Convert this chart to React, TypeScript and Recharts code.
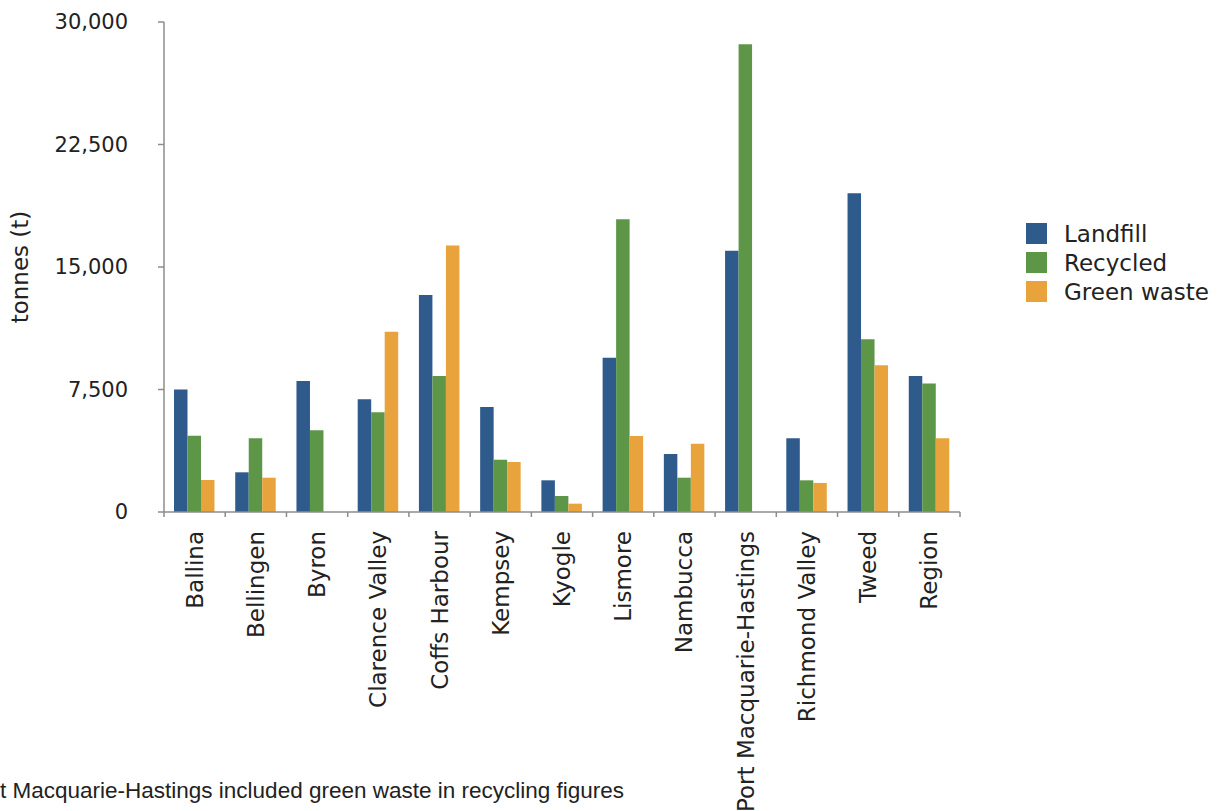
import { BarChart, Bar, XAxis, YAxis } from 'recharts';

const CATEGORIES = [
  'Ballina', 'Bellingen', 'Byron', 'Clarence Valley', 'Coffs Harbour', 'Kempsey', 'Kyogle',
  'Lismore', 'Nambucca', 'Port Macquarie-Hastings', 'Richmond Valley', 'Tweed', 'Region',
];
const LANDFILL = [7500, 2430, 8020, 6900, 13290, 6430, 1940, 9450, 3550, 16000, 4510, 19510, 8330];
const RECYCLED = [4670, 4510, 5000, 6100, 8330, 3200, 980, 17920, 2100, 28640, 1940, 10570, 7860];
const GREEN_WASTE = [1960, 2100, null, 11040, 16310, 3060, 510, 4650, 4180, null, 1780, 8980, 4510];
const Y_TICKS = [0, 7500, 15000, 22500, 30000];
const NOTE = 'Port Macquarie-Hastings included green waste in recycling figures';

const SERIES = [
  { key: 'landfill', name: 'Landfill', color: '#2E5A8C' },
  { key: 'recycled', name: 'Recycled', color: '#5E9648' },
  { key: 'green', name: 'Green waste', color: '#E8A33D' },
];

const data = CATEGORIES.map((name, i) => ({
  name,
  landfill: LANDFILL[i],
  recycled: RECYCLED[i],
  green: GREEN_WASTE[i],
}));

const W = 1217;
const H = 811;
const MARGIN = { top: 22, right: 257, bottom: 0, left: 0 };
const Y_AXIS_W = 164;
const X_AXIS_H = H - 512;
const FONT = '"DejaVu Sans", Verdana, sans-serif';
const AXIS_COLOR = '#8c8c8c';

function fmt(v: number) {
  return new Intl.NumberFormat('en-US').format(v);
}

// tick marks sit on the category boundaries, labels run vertically
function CategoryTick(props: any) {
  const { x, y, payload, index, visibleTicksCount } = props;
  const band = payload?.offset ? payload.offset * 2 : (W - MARGIN.right - Y_AXIS_W) / CATEGORIES.length;
  const left = x - band / 2;
  const right = x + band / 2;
  return (
    <g>
      <line x1={left} y1={y} x2={left} y2={y + 5} stroke={AXIS_COLOR} strokeWidth={1.5} />
      {index === visibleTicksCount - 1 && (
        <line x1={right} y1={y} x2={right} y2={y + 5} stroke={AXIS_COLOR} strokeWidth={1.5} />
      )}
      <text
        transform={`translate(${x},${y + 19}) rotate(-90)`}
        textAnchor="end"
        dominantBaseline="central"
        fontFamily={FONT}
        fontSize={23}
        fill="#222"
      >
        {payload.value}
      </text>
    </g>
  );
}

function LegendBox() {
  return (
    <div style={{ position: 'absolute', left: 1026, top: 219, fontFamily: FONT, fontSize: 23, color: '#222' }}>
      {SERIES.map((s) => (
        <div key={s.key} style={{ display: 'flex', alignItems: 'center', height: 29, whiteSpace: 'nowrap' }}>
          <span style={{ width: 21, height: 21, background: s.color, display: 'inline-block', marginRight: 17 }} />
          <span>{s.name}</span>
        </div>
      ))}
    </div>
  );
}

export default function App() {
  return (
    <div style={{ position: 'absolute', left: 0, top: 0, width: W, height: H, background: '#fff', overflow: 'hidden' }}>
      <BarChart width={W} height={H} data={data} margin={MARGIN} barGap={0} barSize={13.5}>
        <YAxis
          width={Y_AXIS_W}
          domain={[0, 30000]}
          ticks={Y_TICKS}
          tickFormatter={fmt}
          tick={{ fontSize: 21, fill: '#222', fontFamily: FONT }}
          axisLine={{ stroke: AXIS_COLOR, strokeWidth: 1.5 }}
          tickLine={{ stroke: AXIS_COLOR, strokeWidth: 1.5 }}
          tickSize={6}
          tickMargin={30}
          label={{
            value: 'tonnes (t)',
            angle: -90,
            position: 'insideLeft',
            offset: 20,
            style: { textAnchor: 'middle', fontSize: 23, fill: '#222', fontFamily: FONT },
          }}
        />
        <XAxis
          dataKey="name"
          height={X_AXIS_H}
          interval={0}
          tickSize={0}
          tickMargin={0}
          tickLine={false}
          axisLine={{ stroke: AXIS_COLOR, strokeWidth: 1.5 }}
          tick={<CategoryTick />}
        />
        {SERIES.map((s) => (
          <Bar key={s.key} dataKey={s.key} name={s.name} fill={s.color} isAnimationActive={false} />
        ))}
      </BarChart>
      <LegendBox />
      <div
        style={{
          position: 'absolute',
          left: -35,
          top: 777.5,
          whiteSpace: 'nowrap',
          fontFamily: '"Liberation Sans", Arial, sans-serif',
          fontSize: 22.5,
          color: '#222',
        }}
      >
        {NOTE}
      </div>
    </div>
  );
}
